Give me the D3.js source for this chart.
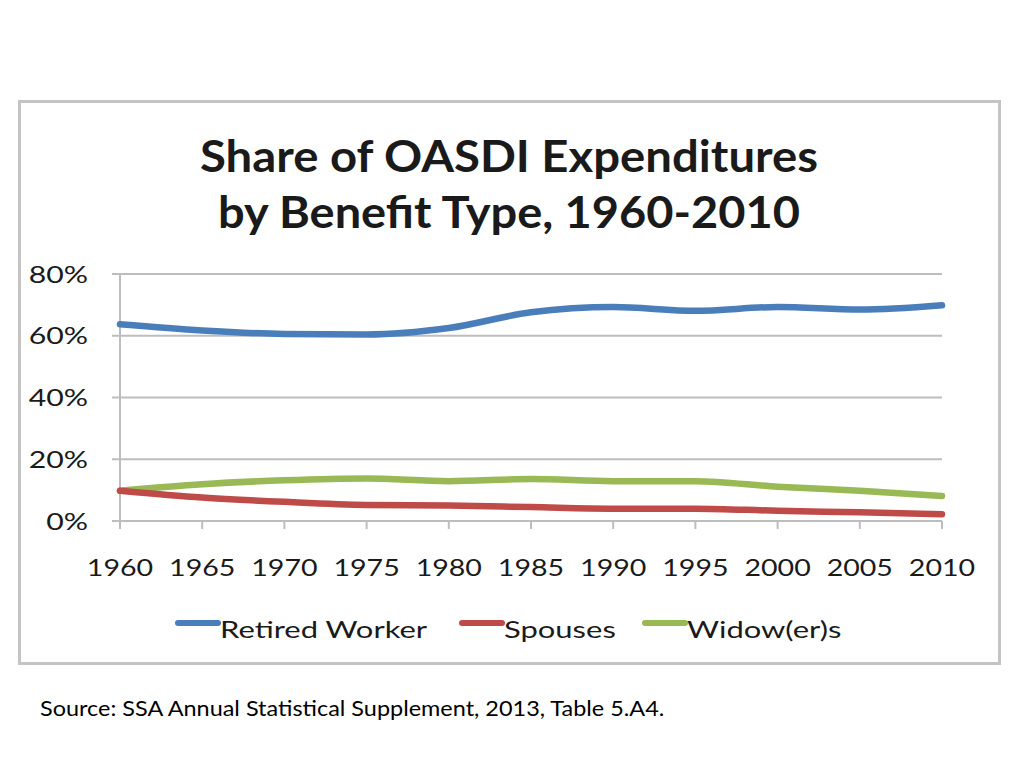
<!DOCTYPE html>
<html><head><meta charset="utf-8">
<script src="https://cdn.jsdelivr.net/npm/d3@7"></script>
<style>html,body{margin:0;padding:0;background:#fff;}svg{display:block;}</style>
</head><body>
<script>
const years = [1960,1965,1970,1975,1980,1985,1990,1995,2000,2005,2010];
const retiredWorker = [63.7,61.7,60.6,60.4,62.5,67.6,69.3,68.1,69.3,68.5,69.9];
const spouses = [9.8,7.6,6.2,5.2,5.0,4.5,4.0,4.0,3.3,2.8,2.2];
const widowers = [9.8,11.9,13.2,13.8,12.9,13.6,12.9,12.9,11.1,9.8,8.1];
const yTicks = [0,20,40,60,80];
const seriesNames = ["Retired Worker","Spouses","Widow(er)s"];
const seriesColors = ["#4a7ebb","#be4b48","#98b954"];
const titleLines = ["Share of OASDI Expenditures","by Benefit Type, 1960-2010"];
const sourceText = "Source: SSA Annual Statistical Supplement, 2013, Table 5.A4.";

const font = "Lato, 'Open Sans', sans-serif";
const svg = d3.select("body").append("svg").attr("width",1024).attr("height",768);

function stretch(sel, f){
  sel.each(function(){
    const w = this.getComputedTextLength();
    d3.select(this).attr("textLength", w*f).attr("lengthAdjust","spacingAndGlyphs");
  });
}

svg.append("rect").attr("x",19.5).attr("y",101.5).attr("width",980).attr("height",562)
  .attr("fill","#fff").attr("stroke","#c4c4c4").attr("stroke-width",3);

const titleW = [618,582];
svg.selectAll("text.title").data(titleLines).join("text").attr("class","title")
  .attr("x",509).attr("y",(d,i)=>172+i*56).attr("text-anchor","middle")
  .attr("font-family",font).attr("font-weight","bold").attr("font-size",44).attr("fill","#1a1a1a")
  .attr("textLength",(d,i)=>titleW[i]).attr("lengthAdjust","spacingAndGlyphs")
  .text(d=>d);

const x = d3.scaleLinear().domain([1960,2010]).range([120,942]);
const y = d3.scaleLinear().domain([0,80]).range([521,274]);

const g = svg.append("g");
g.selectAll("line.grid").data(yTicks).join("line").attr("class","grid")
  .attr("x1",112).attr("x2",942).attr("y1",d=>y(d)).attr("y2",d=>y(d))
  .attr("stroke","#bdbdbd").attr("stroke-width",2);
g.append("line").attr("x1",120).attr("x2",120).attr("y1",274).attr("y2",529)
  .attr("stroke","#bdbdbd").attr("stroke-width",2);
g.selectAll("line.xt").data(years).join("line").attr("class","xt")
  .attr("x1",d=>x(d)).attr("x2",d=>x(d)).attr("y1",521).attr("y2",529)
  .attr("stroke","#bdbdbd").attr("stroke-width",2);

const yl = g.selectAll("text.yl").data(yTicks).join("text").attr("class","yl")
  .attr("x",88).attr("y",d=>y(d)).attr("dy","0.36em").attr("text-anchor","end")
  .attr("font-family",font).attr("font-size",24).attr("fill","#1a1a1a").text(d=>d+"%");
stretch(yl,1.26);
const xl = g.selectAll("text.xl").data(years).join("text").attr("class","xl")
  .attr("x",d=>x(d)).attr("y",576).attr("text-anchor","middle")
  .attr("font-family",font).attr("font-size",24).attr("fill","#1a1a1a").text(d=>d);
stretch(xl,1.19);

const allSeries = [retiredWorker, spouses, widowers];
const line = d3.line().x((d,i)=>x(years[i])).y(d=>y(d)).curve(d3.curveMonotoneX);
[2,1,0].forEach(k=>{
  g.append("path").datum(allSeries[k]).attr("d",line).attr("fill","none")
    .attr("stroke",seriesColors[k]).attr("stroke-width",6.5).attr("stroke-linecap","round");
});

const legX = [178,462,645];
const leg = svg.selectAll("g.leg").data(seriesNames).join("g").attr("class","leg")
  .attr("transform",(d,i)=>`translate(${legX[i]},627)`);
leg.append("line").attr("x1",0).attr("x2",40).attr("y1",-4).attr("y2",-4)
  .attr("stroke",(d,i)=>seriesColors[i]).attr("stroke-width",6).attr("stroke-linecap","round");
const lt = leg.append("text").attr("x",42).attr("y",0).attr("dy","0.45em")
  .attr("font-family",font).attr("font-size",24).attr("fill","#1a1a1a").text(d=>d);
stretch(lt,1.29);

const src = svg.append("text").attr("x",40).attr("y",716).attr("font-family",font).attr("font-size",21.5)
  .attr("fill","#000").text(sourceText);
stretch(src,1.09);
</script>
</body></html>
